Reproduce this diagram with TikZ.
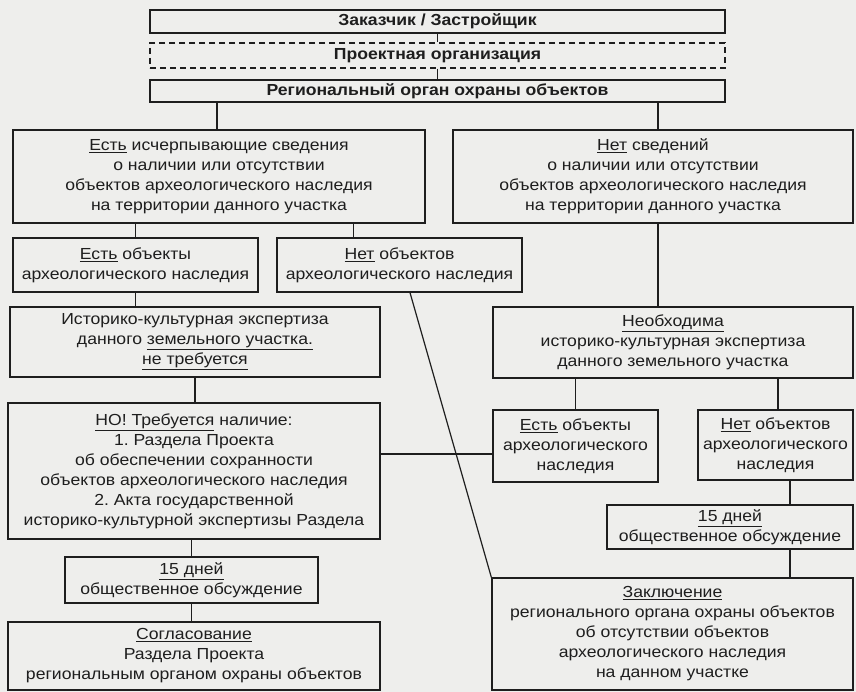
\documentclass[tikz,border=0pt]{standalone}
\usepackage{fontspec}
\setmainfont{Liberation Sans}[FakeStretch=1.1]
\frenchspacing
\definecolor{paper}{RGB}{238,238,236}
\definecolor{ink}{RGB}{30,30,30}
\begin{document}
\begin{tikzpicture}[x=1pt,y=-1pt,
  bx/.style={draw=ink,line width=1.3pt,align=center,inner sep=0pt,text=ink,
    font=\fontsize{16}{20}\selectfont\frenchspacing},
  conn/.style={draw=ink,line width=1.2pt}]
\fill[paper] (0,0) rectangle (856,692);
\useasboundingbox (0,0) rectangle (856,692);

\node[bx,minimum width=575pt,minimum height=23pt,font=\fontsize{16}{18}\bfseries] (zak) at (437.5,21.5) {Заказчик / Застройщик};
\node[bx,dash pattern=on 6pt off 4pt,minimum width=575pt,minimum height=25pt,font=\fontsize{16}{18}\bfseries] (proj) at (437.5,55.5) {Проектная организация};
\node[bx,minimum width=575pt,minimum height=22pt,font=\fontsize{16}{18}\bfseries] (reg) at (437.5,91) {Региональный орган охраны объектов};

\node[bx,minimum width=412pt,minimum height=93pt] (L1) at (219,176.5)
 {\underline{Есть} исчерпывающие сведения\\о наличии или отсутствии\\объектов археологического наследия\\на территории данного участка};
\node[bx,minimum width=400pt,minimum height=93pt] (R1) at (653,176.5)
 {\underline{Нет} сведений\\о наличии или отсутствии\\объектов археологического наследия\\на территории данного участка};

\node[bx,minimum width=245pt,minimum height=54pt] (L2a) at (135.5,265)
 {\underline{Есть} объекты\\археологического наследия};
\node[bx,minimum width=245pt,minimum height=54pt] (L2b) at (399.5,265)
 {\underline{Нет} объектов\\археологического наследия};

\node[bx,minimum width=370pt,minimum height=70pt] (L3) at (195,342)
 {Историко-культурная экспертиза\\данного \underline{земельного участка.}\\\underline{не требуется}};
\node[bx,minimum width=372pt,minimum height=136pt] (L4) at (194,471)
 {\underline{НО! Требуется} наличие:\\1. Раздела Проекта\\об обеспечении сохранности\\объектов археологического наследия\\2. Акта государственной\\историко-культурной экспертизы Раздела};
\node[bx,minimum width=253pt,minimum height=46pt] (L5) at (191.5,580)
 {\underline{15 дней}\\общественное обсуждение};
\node[bx,minimum width=372pt,minimum height=68pt] (L6) at (194,656)
 {\underline{Согласование}\\Раздела Проекта\\региональным органом охраны объектов};

\node[bx,minimum width=360pt,minimum height=71pt] (R2) at (673,342.5)
 {\underline{Необходима}\\историко-культурная экспертиза\\данного земельного участка};
\node[bx,minimum width=165pt,minimum height=72pt] (R3a) at (575.5,446)
 {\underline{Есть} объекты\\археологического\\наследия};
\node[bx,minimum width=155pt,minimum height=70pt] (R3b) at (775.5,445)
 {\underline{Нет} объектов\\археологического\\наследия};
\node[bx,minimum width=246pt,minimum height=44pt] (R4) at (730,527)
 {\underline{15 дней}\\общественное обсуждение};
\node[bx,minimum width=361pt,minimum height=112pt] (R5) at (672.5,634)
 {\underline{Заключение}\\регионального органа охраны объектов\\об отсутствии объектов\\археологического наследия\\на данном участке};

% connectors
\draw[conn] (zak.south) -- (proj.north);
\draw[conn] (proj.south) -- (reg.north);
\draw[conn] ([xshift=-2pt]L1.north) -- ([xshift=-2pt]L1.north |- reg.south);
\draw[conn] ([xshift=5pt]R1.north) -- ([xshift=5pt]R1.north |- reg.south);
\draw[conn] (L2a.north) -- (L2a.north |- L1.south);
\draw[conn] ([xshift=-46pt]L2b.north) -- ([xshift=-46pt]L2b.north |- L1.south);
\draw[conn] ([xshift=5pt]R1.south) -- ([xshift=5pt]R1.south |- R2.north);
\draw[conn] (L2a.south) -- (L2a.south |- L3.north);
\draw[conn] (L3.south) -- (L3.south |- L4.north);
\draw[conn] (L5.north) -- (L5.north |- L4.south);
\draw[conn] (L5.south) -- (L5.south |- L6.north);
\draw[conn] ([yshift=17pt]L4.east) coordinate (h) -- (h -| R3a.west);
\draw[conn] ([xshift=10.5pt]L2b.south) -- (R5.north west);
\draw[conn] (R3a.north) -- (R3a.north |- R2.south);
\draw[conn] ([xshift=2.5pt]R3b.north) -- ([xshift=2.5pt]R3b.north |- R2.south);
\draw[conn] ([xshift=14.5pt]R3b.south) -- ([xshift=14.5pt]R3b.south |- R4.north);
\draw[conn] ([xshift=60pt]R4.south) -- ([xshift=60pt]R4.south |- R5.north);
\end{tikzpicture}
\end{document}
